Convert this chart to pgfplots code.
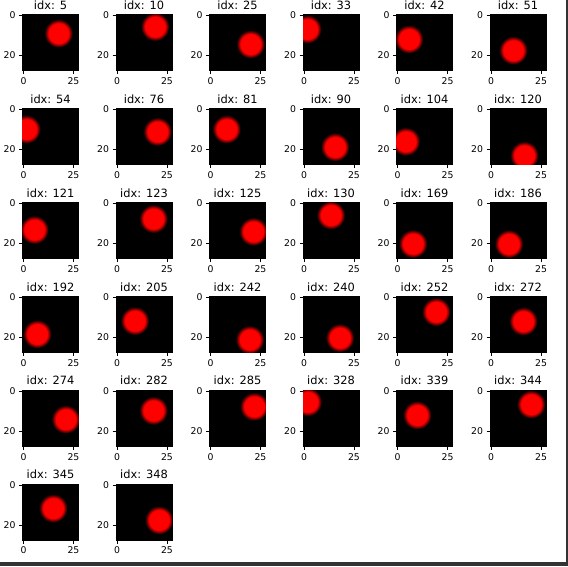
\documentclass[border=0pt]{standalone}
\usepackage{fontspec}
\setmainfont{DejaVu Sans}
\usepackage{pgfplots}
\pgfplotsset{compat=1.18}

% soft red disc: full red core, short fade to black at the rim
\pgfdeclareradialshading{blurdot}{\pgfpointorigin}{color(0bp)=(red); color(17.5bp)=(red); color(25bp)=(black); color(50bp)=(black)}
\pgfdeclareplotmark{blurdot}{%
  \pgfpathcircle{\pgfpointorigin}{\pgfplotmarksize}%
  \pgfshadepath{blurdot}{0}%
  \pgfusepath{discard}}

\pgfplotsset{
  imgpanel/.style={
    anchor=north west,
    width=56pt, height=56pt,
    scale only axis,
    xmin=-0.5, xmax=27.5,
    ymin=-0.5, ymax=27.5,
    y dir=reverse,
    xtick={0,25}, ytick={0,20},
    xtick pos=lower, ytick pos=left,
    tick align=outside,
    major tick length=3.5pt,
    tick style={black, line width=0.8pt},
    axis line style={black, line width=0.8pt},
    axis background/.style={fill=black},
    clip marker paths=true,
    tick label style={font=\fontsize{9.3}{10}\selectfont},
    /pgf/number format/assume math mode=true,
    title style={font=\fontsize{11.4}{12}\selectfont, yshift=-4.5pt},
  },
}

% #1 column, #2 row, #3 index, #4 x, #5 y
\newcommand{\panel}[5]{%
  \begin{axis}[imgpanel, at={(22.5pt+#1*93.5pt, 551.5pt-#2*93.9pt)}, title={idx: #3}]
    \addplot[only marks, mark=blurdot, mark size=14.2pt] coordinates {(#4,#5)};
  \end{axis}}

\begin{document}
\begin{tikzpicture}
  \useasboundingbox (0,0) rectangle (568pt,566pt);
  \fill[black!80] (0,0) rectangle (568pt,4.3pt);
  \fill[black!80] (565.8pt,0) rectangle (568pt,566pt);

  \panel{0}{0}{5}{17.5}{8.9}
  \panel{1}{0}{10}{19}{5.6}
  \panel{2}{0}{25}{20}{14.3}
  \panel{3}{0}{33}{1.6}{6.8}
  \panel{4}{0}{42}{5.7}{11.8}
  \panel{5}{0}{51}{11.1}{17.4}

  \panel{0}{1}{54}{1.4}{9.9}
  \panel{1}{1}{76}{20.2}{11.1}
  \panel{2}{1}{81}{8}{9.9}
  \panel{3}{1}{90}{15.5}{18.8}
  \panel{4}{1}{104}{4.1}{16}
  \panel{5}{1}{120}{16.6}{23}

  \panel{0}{2}{121}{5.4}{13.2}
  \panel{1}{2}{123}{18.2}{7.7}
  \panel{2}{2}{125}{21.4}{14.1}
  \panel{3}{2}{130}{13.4}{5.9}
  \panel{4}{2}{169}{7.7}{20.2}
  \panel{5}{2}{186}{8.9}{20.3}

  \panel{0}{3}{192}{6.8}{18.4}
  \panel{1}{3}{205}{8.9}{11.8}
  \panel{2}{3}{242}{19.6}{21.2}
  \panel{3}{3}{240}{17.9}{20.3}
  \panel{4}{3}{252}{19.3}{7.3}
  \panel{5}{3}{272}{16.1}{12}

  \panel{0}{4}{274}{21.1}{14.1}
  \panel{1}{4}{282}{18.2}{9.7}
  \panel{2}{4}{285}{21.8}{7.7}
  \panel{3}{4}{328}{1.8}{5.4}
  \panel{4}{4}{339}{9.8}{12}
  \panel{5}{4}{344}{20}{6.6}

  \panel{0}{5}{345}{14.8}{11.6}
  \panel{1}{5}{348}{21}{17.5}
\end{tikzpicture}
\end{document}
